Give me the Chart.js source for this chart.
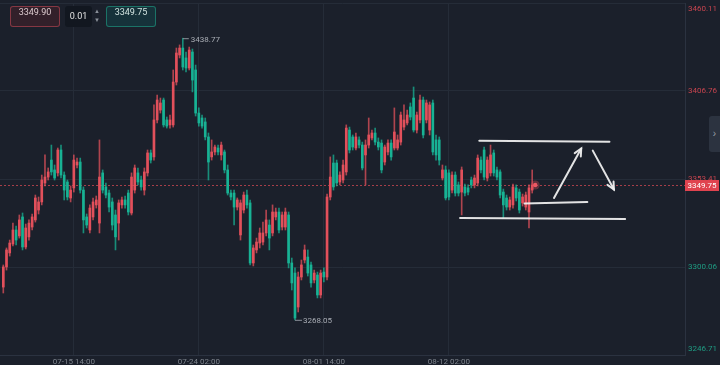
<!DOCTYPE html>
<html>
<head>
<meta charset="utf-8">
<script src="https://cdn.jsdelivr.net/npm/chart.js@4.4.1/dist/chart.umd.min.js"></script>
<style>
  html, body { margin: 0; padding: 0; background: #1b202b; }
  #wrap { position: relative; width: 720px; height: 365px; overflow: hidden; }
  #chart { position: absolute; left: 0; top: 0; }
  .box { position: absolute; top: 6px; height: 21px; line-height: 19px; font: 9px Roboto, sans-serif; text-align: center; border-radius: 3px; box-sizing: border-box; }
  .sell { left: 10px; width: 50px; border: 1px solid rgba(204,74,88,0.55); background: #32202a; color: #dccbcf; }
  .qty { left: 65px; width: 27px; background: #121720; color: #e2e2e2; line-height: 21px; }
  .spin { position: absolute; left: 94px; top: 7px; width: 6px; font: 6px sans-serif; color: #8a9099; line-height: 9px; text-align: center; }
  .buy { left: 106px; width: 50px; border: 1px solid rgba(32,170,140,0.55); background: #16323a; color: #d2e4e0; }
  .tab { position: absolute; left: 709px; top: 116px; width: 11px; height: 36px; background: #2c3340; border-radius: 3px 0 0 3px; color: #9aa0a8; font: 10px sans-serif; line-height: 36px; text-align: center; }
</style>
</head>
<body>
<div id="wrap">
  <canvas id="chart" width="720" height="365"></canvas>
  <div class="box sell">3349.90</div>
  <div class="box qty">0.01</div>
  <div class="spin">▲<br>▼</div>
  <div class="box buy">3349.75</div>
  <div class="tab">›</div>
</div>
<script>
// 4h candles
const open = [
  3287.9, 3300.1, 3308.6, 3314.0, 3322.5, 3318.9, 3330.4, 3312.2, 3318.3, 3324.3,
  3328.6, 3334.6, 3339.5, 3351.0, 3354.6, 3364.9, 3358.9, 3357.1, 3371.0, 3355.8,
  3351.6, 3341.9, 3348.0, 3361.9, 3363.7, 3346.7, 3330.4, 3322.5, 3330.4, 3337.7,
  3326.7, 3357.1, 3348.6, 3344.9, 3339.5, 3331.6, 3326.7, 3337.7, 3340.7, 3344.9,
  3332.8, 3346.7, 3357.1, 3352.8, 3346.7, 3357.1, 3369.2, 3366.8, 3389.2, 3395.2,
  3401.3, 3389.2, 3386.2, 3386.2, 3412.2, 3428.6, 3432.8, 3426.8, 3420.7, 3430.4,
  3419.5, 3393.4, 3390.4, 3388.0, 3378.9, 3366.8, 3369.8, 3372.2, 3368.0, 3369.8,
  3358.9, 3344.9, 3344.9, 3336.4, 3319.5, 3334.6, 3343.7, 3338.9, 3302.5, 3310.4,
  3314.6, 3315.2, 3320.7, 3325.5, 3320.7, 3330.4, 3333.4, 3324.3, 3324.3, 3331.6,
  3302.5, 3296.4, 3275.8, 3294.0, 3304.3, 3306.1, 3301.3, 3292.2, 3295.2, 3283.1,
  3297.0, 3294.0, 3342.5, 3363.1, 3363.1, 3351.6, 3352.8, 3357.7, 3383.1, 3378.9,
  3372.2, 3377.1, 3374.0, 3368.0, 3374.0, 3378.3, 3381.3, 3375.8, 3375.2, 3363.7,
  3369.8, 3375.2, 3372.2, 3372.2, 3375.8, 3384.9, 3387.4, 3397.1, 3402.5, 3383.1,
  3389.2, 3401.3, 3389.2, 3383.1, 3399.5, 3377.1, 3377.1, 3354.0, 3358.9, 3357.1,
  3346.7, 3355.8, 3349.8, 3345.5, 3348.6, 3348.0, 3352.8, 3349.8, 3351.0, 3364.9,
  3371.0, 3354.0, 3357.1, 3369.2, 3358.9, 3357.7, 3345.5, 3341.9, 3336.4, 3337.7,
  3348.0, 3345.5, 3338.9, 3336.4, 3333.4, 3346.7
];
const high = [
  3301.3, 3311.6, 3316.4, 3326.7, 3324.9, 3331.6, 3332.8, 3326.1, 3328.6, 3332.2,
  3343.7, 3342.5, 3355.8, 3368.0, 3360.1, 3374.0, 3361.9, 3372.2, 3374.0, 3357.7,
  3352.8, 3349.2, 3368.0, 3366.1, 3366.1, 3348.6, 3332.2, 3337.7, 3341.9, 3343.1,
  3377.1, 3358.9, 3351.0, 3346.7, 3341.9, 3334.6, 3340.7, 3342.5, 3343.1, 3346.7,
  3357.1, 3361.9, 3360.1, 3355.2, 3360.1, 3371.0, 3371.0, 3398.3, 3404.3, 3402.5,
  3402.5, 3391.0, 3392.2, 3419.5, 3432.8, 3434.7, 3438.77, 3430.4, 3433.4, 3432.2,
  3422.5, 3396.5, 3392.2, 3390.4, 3381.3, 3377.1, 3374.0, 3374.0, 3375.8, 3371.0,
  3361.9, 3346.7, 3346.7, 3341.9, 3340.7, 3345.5, 3346.7, 3340.7, 3313.4, 3317.6,
  3323.7, 3327.3, 3334.6, 3328.6, 3337.7, 3335.8, 3335.8, 3333.4, 3335.8, 3333.4,
  3305.5, 3299.5, 3297.0, 3304.3, 3313.4, 3310.4, 3303.1, 3298.2, 3297.0, 3298.2,
  3299.5, 3344.3, 3366.8, 3368.0, 3364.9, 3357.7, 3364.9, 3386.2, 3384.9, 3380.1,
  3381.3, 3378.9, 3375.8, 3377.1, 3390.4, 3383.1, 3384.3, 3378.3, 3377.1, 3374.0,
  3377.1, 3377.1, 3396.5, 3380.1, 3394.0, 3398.3, 3395.2, 3399.5, 3409.2, 3394.0,
  3404.3, 3403.1, 3401.3, 3400.1, 3401.3, 3380.1, 3378.9, 3361.9, 3361.3, 3358.9,
  3357.7, 3357.7, 3351.6, 3360.7, 3350.4, 3349.8, 3354.6, 3355.8, 3368.0, 3366.8,
  3372.8, 3366.8, 3374.0, 3371.0, 3360.7, 3358.9, 3347.3, 3343.7, 3342.5, 3350.4,
  3349.8, 3347.3, 3344.3, 3345.5, 3349.8, 3358.9
];
const low = [
  3284.3, 3298.2, 3306.7, 3312.8, 3313.4, 3317.6, 3310.4, 3311.0, 3316.4, 3322.5,
  3327.3, 3332.2, 3337.7, 3349.2, 3352.8, 3355.8, 3352.8, 3355.2, 3354.0, 3340.7,
  3340.7, 3339.5, 3345.5, 3360.1, 3344.9, 3320.7, 3323.7, 3320.7, 3328.6, 3335.8,
  3320.7, 3344.9, 3341.9, 3333.4, 3322.5, 3310.4, 3316.4, 3335.8, 3335.8, 3331.6,
  3331.6, 3344.9, 3349.8, 3346.7, 3343.7, 3355.2, 3363.1, 3364.9, 3387.4, 3393.4,
  3384.9, 3384.3, 3384.3, 3384.9, 3410.4, 3426.8, 3419.5, 3418.3, 3419.5, 3406.2,
  3391.6, 3385.5, 3384.3, 3377.1, 3352.8, 3364.9, 3368.0, 3368.0, 3364.9, 3357.1,
  3343.7, 3340.7, 3325.5, 3334.6, 3316.4, 3332.8, 3335.8, 3301.3, 3300.7, 3308.6,
  3311.6, 3313.4, 3318.9, 3310.4, 3318.9, 3328.6, 3320.7, 3322.5, 3322.5, 3299.5,
  3286.1, 3268.05, 3272.8, 3292.2, 3302.5, 3294.6, 3287.9, 3290.4, 3281.3, 3281.3,
  3291.0, 3292.2, 3340.7, 3346.7, 3349.2, 3349.8, 3351.0, 3355.8, 3369.2, 3371.0,
  3371.0, 3372.2, 3358.9, 3349.8, 3372.2, 3377.1, 3374.0, 3371.0, 3357.1, 3361.9,
  3368.0, 3364.9, 3371.0, 3371.0, 3374.0, 3383.1, 3386.2, 3389.2, 3381.9, 3381.3,
  3387.4, 3378.3, 3387.4, 3380.1, 3368.0, 3364.9, 3361.9, 3352.8, 3340.7, 3340.7,
  3344.9, 3343.1, 3343.1, 3331.6, 3343.1, 3343.7, 3348.0, 3348.0, 3349.2, 3357.1,
  3352.8, 3352.2, 3355.2, 3355.2, 3352.8, 3341.9, 3329.8, 3334.6, 3334.6, 3335.8,
  3340.1, 3332.8, 3337.0, 3334.6, 3323.7, 3344.9
];
const close = [
  3300.1, 3310.4, 3314.6, 3322.5, 3316.4, 3328.6, 3312.2, 3323.7, 3326.7, 3330.4,
  3341.9, 3339.5, 3352.8, 3354.6, 3357.7, 3357.7, 3354.0, 3371.0, 3355.8, 3346.7,
  3342.5, 3346.7, 3364.9, 3363.7, 3346.7, 3328.6, 3325.5, 3335.8, 3339.5, 3340.7,
  3354.6, 3346.7, 3343.7, 3336.4, 3325.5, 3318.3, 3338.9, 3340.7, 3337.7, 3333.4,
  3354.6, 3360.1, 3351.6, 3348.6, 3357.7, 3369.2, 3364.9, 3389.2, 3401.3, 3399.5,
  3386.2, 3385.5, 3389.2, 3412.2, 3429.8, 3432.8, 3421.3, 3420.7, 3431.6, 3413.4,
  3393.4, 3387.4, 3385.5, 3378.9, 3363.7, 3369.8, 3372.8, 3369.8, 3374.0, 3358.9,
  3344.9, 3342.5, 3336.4, 3340.7, 3338.9, 3343.7, 3337.7, 3302.5, 3311.6, 3315.2,
  3320.7, 3320.7, 3328.6, 3317.6, 3333.4, 3333.4, 3322.5, 3331.6, 3333.4, 3302.5,
  3290.4, 3269.1, 3294.0, 3301.3, 3310.4, 3296.4, 3290.4, 3296.4, 3283.1, 3296.4,
  3294.0, 3342.5, 3354.6, 3348.6, 3351.0, 3355.8, 3361.9, 3384.3, 3371.0, 3372.8,
  3378.9, 3374.0, 3360.1, 3374.0, 3380.1, 3381.3, 3375.8, 3372.8, 3358.9, 3372.8,
  3375.2, 3366.8, 3381.9, 3377.1, 3392.2, 3389.2, 3392.2, 3391.0, 3383.1, 3392.2,
  3401.3, 3380.1, 3399.5, 3398.3, 3369.8, 3368.0, 3364.9, 3358.9, 3341.9, 3342.5,
  3355.8, 3344.9, 3344.9, 3358.9, 3344.9, 3345.5, 3349.8, 3354.0, 3366.1, 3358.9,
  3354.6, 3364.9, 3368.0, 3357.1, 3354.6, 3343.7, 3337.7, 3336.4, 3340.7, 3348.6,
  3341.9, 3334.6, 3342.5, 3343.7, 3348.0, 3349.75
];

const tickLabels = ['07-15 14:00', '07-24 02:00', '08-01 14:00', '08-12 02:00'];
const tickIndex = [22, 61, 100, 139];
const priceTicks = [3246.71, 3300.06, 3353.41, 3406.76, 3460.11];
const lastPrice = 3349.75;

// hand-drawn lines on the chart: [index, price] pairs
const drawnLines = [
  [[148.5, 3376.6], [189.1, 3376.0]],
  [[142.5, 3329.8], [194.0, 3329.2]],
  [[162.6, 3338.5], [182.2, 3339.4]]
];
const drawnArrows = [
  [[171.8, 3341.9], [180.3, 3371.9]],
  [[183.9, 3370.6], [190.5, 3347.0]]
];

const gridColor = '#252c38';
const axisColor = '#2b3240';
const labelFont = '8px Roboto';

const isUp = i => close[i] >= open[i];
const colorOf = (i, a) => isUp(i) ? `rgba(226,80,91,${a})` : `rgba(24,178,148,${a})`;

function maxIndex(arr) { return arr.indexOf(Math.max(...arr)); }
function minIndex(arr) { return arr.indexOf(Math.min(...arr)); }

const overlay = {
    id: 'overlay',
    beforeDatasetsDraw(chart) {
        const { ctx, chartArea: a, scales: { y } } = chart;
        const py = Math.round(y.getPixelForValue(lastPrice)) + 0.5;
        ctx.save();
        ctx.strokeStyle = 'rgba(214,72,84,0.75)';
        ctx.lineWidth = 1;
        ctx.setLineDash([2, 2]);
        ctx.beginPath();
        ctx.moveTo(a.left, py);
        ctx.lineTo(a.right, py);
        ctx.stroke();
        ctx.restore();
    },
    afterDatasetsDraw(chart) {
        const { ctx, scales: { x, y } } = chart;
        const pt = p => [x.getPixelForValue(p[0]), y.getPixelForValue(p[1])];

        ctx.save();
        // high / low marks
        ctx.font = labelFont;
        ctx.fillStyle = '#a9adb5';
        ctx.strokeStyle = '#8d929b';
        ctx.lineWidth = 1;
        ctx.textBaseline = 'middle';
        const hi = maxIndex(high), lo = minIndex(low);
        let hx = x.getPixelForValue(hi), hy = y.getPixelForValue(high[hi]);
        ctx.beginPath(); ctx.moveTo(hx, hy + 0.5); ctx.lineTo(hx + 6, hy + 0.5); ctx.stroke();
        ctx.fillText(high[hi].toFixed(2), hx + 8, hy + 2);
        let lx = x.getPixelForValue(lo), ly = y.getPixelForValue(low[lo]);
        ctx.beginPath(); ctx.moveTo(lx, ly + 0.5); ctx.lineTo(lx + 7, ly + 0.5); ctx.stroke();
        ctx.fillText(low[lo].toFixed(2), lx + 8, ly + 1);

        // last price dot
        const last = close.length - 1;
        const dx = x.getPixelForValue(last) + 3, dy = y.getPixelForValue(lastPrice);
        ctx.fillStyle = 'rgba(230,80,92,0.35)';
        ctx.beginPath(); ctx.arc(dx, dy, 4.5, 0, Math.PI * 2); ctx.fill();
        ctx.fillStyle = '#ec5863';
        ctx.beginPath(); ctx.arc(dx, dy, 2.2, 0, Math.PI * 2); ctx.fill();

        // drawings
        ctx.strokeStyle = 'rgba(238,238,238,0.95)';
        ctx.lineWidth = 2;
        ctx.lineCap = 'round';
        drawnLines.forEach(l => {
            const [x1, y1] = pt(l[0]), [x2, y2] = pt(l[1]);
            ctx.beginPath(); ctx.moveTo(x1, y1); ctx.lineTo(x2, y2); ctx.stroke();
        });
        drawnArrows.forEach(l => {
            const [x1, y1] = pt(l[0]), [x2, y2] = pt(l[1]);
            const ang = Math.atan2(y2 - y1, x2 - x1);
            ctx.beginPath(); ctx.moveTo(x1, y1); ctx.lineTo(x2, y2); ctx.stroke();
            ctx.beginPath();
            ctx.moveTo(x2 - 8 * Math.cos(ang - 0.45), y2 - 8 * Math.sin(ang - 0.45));
            ctx.lineTo(x2, y2);
            ctx.lineTo(x2 - 8 * Math.cos(ang + 0.45), y2 - 8 * Math.sin(ang + 0.45));
            ctx.stroke();
        });
        ctx.restore();
    },
    afterDraw(chart) {
        const { ctx, chartArea: a, scales: { y } } = chart;
        ctx.save();
        ctx.font = labelFont;
        ctx.textBaseline = 'middle';
        ctx.textAlign = 'left';
        priceTicks.forEach(v => {
            let py = y.getPixelForValue(v);
            py = Math.min(Math.max(py, a.top + 6), a.bottom - 6);
            ctx.fillStyle = v > lastPrice ? '#c7444f' : '#1f9c83';
            ctx.fillText(v.toFixed(2), a.right + 3, py);
        });
        // current price tag
        const py = Math.round(y.getPixelForValue(lastPrice));
        ctx.fillStyle = '#e0434f';
        ctx.fillRect(a.right, py - 5, 34, 11);
        ctx.fillStyle = '#ffffff';
        ctx.textAlign = 'center';
        ctx.fillText(lastPrice.toFixed(2), a.right + 17, py + 0.5);
        ctx.restore();
    }
};

const idx = open.map((_, i) => i);

new Chart(document.getElementById('chart'), {
    type: 'bar',
    data: {
        datasets: [
            {
                label: 'wick',
                data: idx.map(i => ({ x: i, y: [low[i], high[i]] })),
                backgroundColor: c => colorOf(c.dataIndex, 0.75),
                barThickness: 1,
                grouped: false,
                order: 2
            },
            {
                label: 'body',
                data: idx.map(i => ({ x: i, y: [open[i], close[i]] })),
                backgroundColor: c => colorOf(c.dataIndex, 1),
                barThickness: 2,
                minBarLength: 1,
                grouped: false,
                order: 1
            }
        ]
    },
    options: {
        responsive: false,
        animation: false,
        devicePixelRatio: 1,
        layout: { padding: { top: 3, left: 0, right: 0, bottom: 0 } },
        plugins: { legend: { display: false }, tooltip: { enabled: false } },
        scales: {
            x: {
                type: 'linear',
                min: -1.03,
                max: 212.67,
                offset: false,
                afterBuildTicks: s => { s.ticks = tickIndex.map(v => ({ value: v })); },
                afterFit: s => { s.height = 10; },
                grid: { color: gridColor, drawTicks: false, offset: false },
                border: { color: axisColor },
                ticks: {
                    color: '#7e848d',
                    font: { family: 'Roboto', size: 8 },
                    padding: 2,
                    maxRotation: 0,
                    autoSkip: false,
                    callback: v => tickLabels[tickIndex.indexOf(v)] ?? ''
                }
            },
            y: {
                position: 'right',
                min: priceTicks[0],
                max: priceTicks[priceTicks.length - 1],
                afterBuildTicks: s => { s.ticks = priceTicks.map(v => ({ value: v })); },
                afterFit: s => { s.width = 35; },
                grid: { color: gridColor, drawTicks: false },
                border: { color: axisColor },
                ticks: { display: false }
            }
        }
    },
    plugins: [overlay]
});
</script>
</body>
</html>
